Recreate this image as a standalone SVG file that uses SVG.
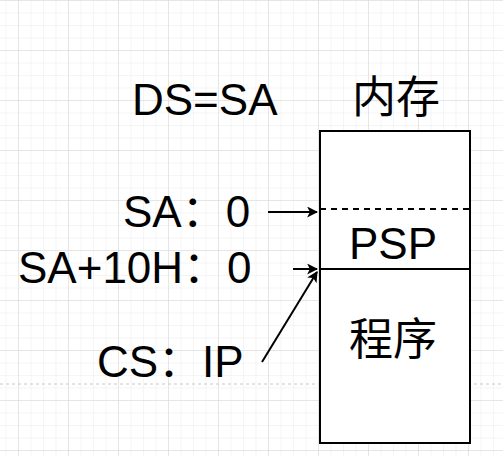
<svg xmlns="http://www.w3.org/2000/svg" width="503" height="456" viewBox="0 0 503 456">
<defs>
<pattern id="minor" x="18" y="0" width="12.5" height="12.5" patternUnits="userSpaceOnUse">
<path d="M0 0V12.5M0 0H12.5" fill="none" stroke="#ebebeb" stroke-width="1"/>
</pattern>
<pattern id="major" x="18" y="0" width="50" height="50" patternUnits="userSpaceOnUse">
<path d="M0 0V50M0 0H50" fill="none" stroke="#d8d8d8" stroke-width="1"/>
</pattern>
<marker id="arr" viewBox="0 0 10 10" refX="9" refY="5" markerWidth="11" markerHeight="11" markerUnits="userSpaceOnUse" orient="auto">
<path d="M0 0L10 5L0 10L2.5 5Z" fill="#000"/>
</marker>
</defs>
<style>
text{font-family:"Liberation Sans","Noto Sans CJK SC",sans-serif;font-size:44px;fill:#000}
.box{fill:#fff;stroke:#000;stroke-width:2}
.conn{stroke:#000;stroke-width:2;fill:none}
</style>
<rect width="503" height="456" fill="#fff"/>
<rect width="503" height="456" fill="url(#minor)"/>
<rect width="503" height="456" fill="url(#major)"/>
<line x1="0" y1="384" x2="503" y2="384" stroke="#c8c8c8" stroke-width="1" stroke-dasharray="3 3"/>
<g id="labels">
<text x="132" y="115">DS=SA</text>
<text x="123" y="227">SA：0</text>
<text x="18" y="283">SA+10H：0</text>
<text x="97" y="377">CS：IP</text>
</g>
<g id="memory">
<text x="396" y="113" text-anchor="middle">内存</text>
<rect class="box" x="320" y="131" width="150" height="312"/>
</g>
<g id="psp">
<line x1="320" y1="209" x2="470" y2="209" stroke="#000" stroke-width="2" stroke-dasharray="6 5"/>
<text x="393" y="259" text-anchor="middle">PSP</text>
</g>
<g id="program">
<line x1="320" y1="269" x2="470" y2="269" stroke="#000" stroke-width="2"/>
<text x="393" y="355" text-anchor="middle">程序</text>
</g>
<g id="connectors">
<line class="conn" x1="268" y1="212" x2="317" y2="212" marker-end="url(#arr)"/>
<line class="conn" x1="293" y1="269" x2="317" y2="269" marker-end="url(#arr)"/>
<line class="conn" x1="262" y1="362" x2="317" y2="272" marker-end="url(#arr)"/>
</g>
</svg>
